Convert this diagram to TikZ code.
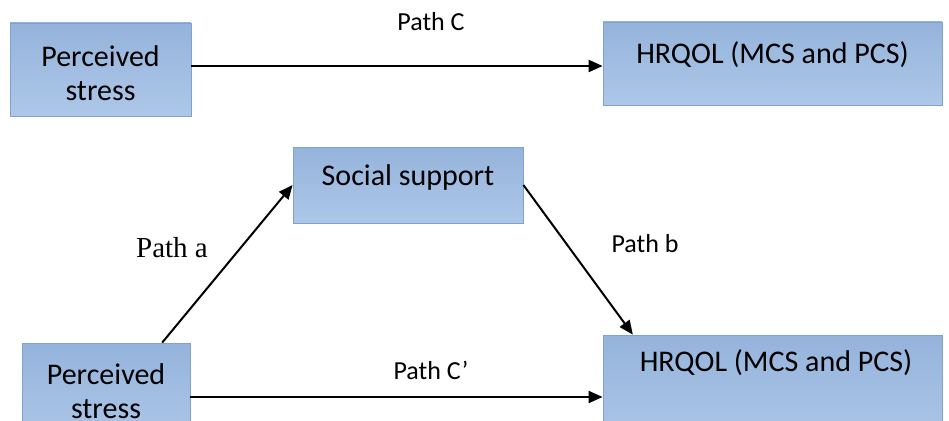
\documentclass[tikz,border=0pt]{standalone}
\usepackage{fontspec}
\setmainfont{Carlito}
\newfontfamily\serifpath{Liberation Serif}
\usetikzlibrary{arrows.meta,calc}
\definecolor{boxtop}{HTML}{95B3DB}
\definecolor{boxbot}{HTML}{ADC7E8}
\definecolor{boxline}{HTML}{7FA2D0}
\tikzset{
  box/.style={draw=boxline, line width=0.8pt, top color=boxtop, bottom color=boxbot, inner sep=0pt},
  boxtext/.style={font=\fontsize{30}{34}\selectfont, align=center, inner sep=0pt, text=black},
  lbl/.style={font=\fontsize{26}{30}\selectfont, inner sep=0pt},
  conn/.style={line width=2pt, -{Triangle[length=14pt,width=12pt]}}
}
\begin{document}
\begin{tikzpicture}[x=1pt,y=-1pt]
\useasboundingbox (0,0) rectangle (949,420);
% top row
\node[box, minimum width=181pt, minimum height=93pt] (ps1) at (100.5,69.5) {};
\node[boxtext] (ps1t) at (100.5,73) {Perceived\\stress};
\node[box, minimum width=339pt, minimum height=83pt] (hq1) at (772.5,63.5) {};
\node[boxtext] (hq1t) at (772.5,55) {HRQOL (MCS and PCS)};
\draw[conn] (ps1.east |- 0,66) -- (hq1.west |- 0,66);
\node[lbl] (pc) at (431,22) {Path C};
% mediator
\node[box, minimum width=230pt, minimum height=76pt] (ss) at (408,185) {};
\node[boxtext] (sst) at (408,177) {Social support};
% bottom row
\node[box, minimum width=168pt, minimum height=100pt] (ps2) at (106,393) {};
\node[boxtext] (ps2t) at (106,391) {Perceived\\stress};
\node[box, minimum width=339pt, minimum height=110pt] (hq2) at (772.5,390) {};
\node[boxtext] (hq2t) at (776,363) {HRQOL (MCS and PCS)};
\draw[conn] (ps2.east |- 0,397) -- (hq2.west |- 0,397);
\node[lbl] (pcp) at (431,370) {Path C’};
\draw[conn] ($(ps2.north west)!0.833!(ps2.north east)$) -- (ss.west);
\draw[conn] (ss.east) -- ($(hq2.north west)!0.089!(hq2.north east)$);
\node[font=\serifpath\fontsize{29}{32}\selectfont, inner sep=0pt] (pa) at (172,248) {Path a};
\node[lbl] (pb) at (645,244) {Path b};
\end{tikzpicture}
\end{document}
